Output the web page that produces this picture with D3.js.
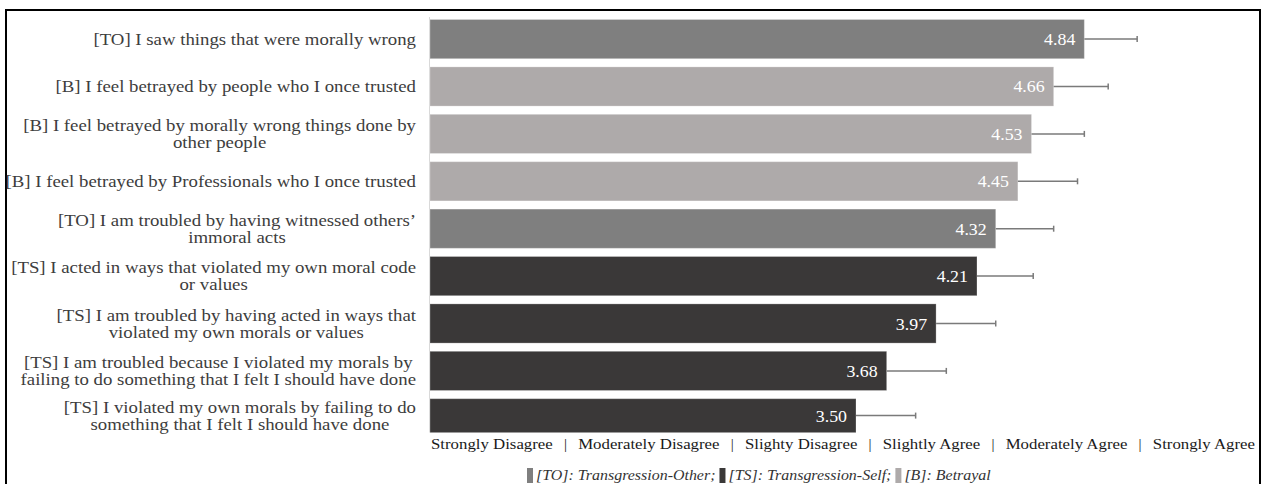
<!DOCTYPE html>
<html>
<head>
<meta charset="utf-8">
<script src="https://cdn.jsdelivr.net/npm/d3@7/dist/d3.min.js"></script>
<style>
  html, body { margin: 0; padding: 0; background: #fff; }
  svg { display: block; }
  text { font-family: "Book Antiqua", "Palatino Linotype", Palatino, "Liberation Serif", serif; }
</style>
</head>
<body>
<svg id="chart" width="1266" height="484"></svg>
<script>
// ── data ──────────────────────────────────────────
const items = [
  ["[TO] I saw things that were morally wrong"],
  ["[B] I feel betrayed by people who I once trusted"],
  ["[B] I feel betrayed by morally wrong things done by", "other people"],
  ["[B] I feel betrayed by Professionals who I once trusted"],
  ["[TO] I am troubled by having witnessed others\u2019", "immoral acts"],
  ["[TS] I acted in ways that violated my own moral code", "or values"],
  ["[TS] I am troubled by having acted in ways that", "violated my own morals or values"],
  ["[TS] I am troubled because I violated my morals by", "failing to do something that I felt I should have done"],
  ["[TS] I violated my own morals by failing to do", "something that I felt I should have done"]
];
const means  = [4.84, 4.66, 4.53, 4.45, 4.32, 4.21, 3.97, 3.68, 3.50];
const errors = [0.31, 0.32, 0.31, 0.35, 0.34, 0.33, 0.35, 0.35, 0.35];
const groups = ["TO", "B", "B", "B", "TO", "TS", "TS", "TS", "TS"];

const scaleLabels = ["Strongly Disagree", "Moderately Disagree", "Slighty Disagree",
                     "Slightly Agree", "Moderately Agree", "Strongly Agree"];
const legendKeys  = ["TO", "TS", "B"];
const legendNames = ["[TO]: Transgression-Other;", "[TS]: Transgression-Self;", "[B]: Betrayal"];

// ── setup ─────────────────────────────────────────
const svg = d3.select("#chart");
const color = d3.scaleOrdinal().domain(["TO", "B", "TS"]).range(["#7f7f7f", "#aeaaaa", "#3a3838"]);
const STRETCH = 1.105;  // Liberation Serif is narrower than the Palatino-like original

const x = d3.scaleLinear().domain([1, 6]).range([430, 1282]);
const y = d3.scaleBand().domain(d3.range(means.length))
  .range([19.5, 437.9]).paddingInner(0.173).paddingOuter(0);
const plotBottom = 432.5;
const mid = i => (y(i) + Math.min(y(i) + y.bandwidth(), plotBottom)) / 2;

// outer frame
svg.append("rect")
  .attr("x", 6).attr("y", 10).attr("width", 1254).attr("height", 490)
  .attr("fill", "none").attr("stroke", "#000").attr("stroke-width", 2);

svg.append("clipPath").attr("id", "plot")
  .append("rect").attr("x", 0).attr("y", 0).attr("width", 1266).attr("height", plotBottom);

// faint value axis line
svg.append("line")
  .attr("x1", x(1) - 0.5).attr("x2", x(1) - 0.5)
  .attr("y1", 17).attr("y2", plotBottom)
  .attr("stroke", "#d9d9d9").attr("stroke-width", 1);

const rows = d3.range(means.length).map(i => ({
  i, lines: items[i], mean: means[i], err: errors[i], group: groups[i]
}));

// bars
svg.append("g").attr("clip-path", "url(#plot)")
  .selectAll("rect")
  .data(rows)
  .join("rect")
  .attr("x", x(1))
  .attr("y", d => y(d.i))
  .attr("width", d => x(d.mean) - x(1))
  .attr("height", y.bandwidth())
  .attr("fill", d => color(d.group))
  .attr("stroke", "rgba(255,255,255,0.25)")
  .attr("stroke-width", 1);

// error bars (positive side only)
const eb = svg.append("g").attr("stroke", "#7a7a7a").attr("stroke-width", 1.5);
eb.selectAll("line.stem")
  .data(rows)
  .join("line")
  .attr("class", "stem")
  .attr("x1", d => x(d.mean))
  .attr("x2", d => x(d.mean + d.err))
  .attr("y1", d => mid(d.i))
  .attr("y2", d => mid(d.i));
eb.selectAll("line.cap")
  .data(rows)
  .join("line")
  .attr("class", "cap")
  .attr("x1", d => x(d.mean + d.err))
  .attr("x2", d => x(d.mean + d.err))
  .attr("y1", d => mid(d.i) - 3)
  .attr("y2", d => mid(d.i) + 3);

// value labels inside bars
svg.selectAll("text.val")
  .data(rows)
  .join("text")
  .attr("class", "val")
  .attr("x", d => x(d.mean) - 9)
  .attr("y", d => mid(d.i) + 6)
  .attr("text-anchor", "end")
  .attr("fill", "#fff")
  .attr("font-size", "17px")
  .text(d => d.mean.toFixed(2))
  .each(function () {
    const w = this.getComputedTextLength();
    d3.select(this).attr("textLength", w * 1.05).attr("lengthAdjust", "spacingAndGlyphs");
  });

// category labels: each line its own text, centred on the block, block right-aligned
const labelRight = 416, lineH = 17;
rows.forEach(d => {
  const cy = mid(d.i);
  const y0 = cy - (d.lines.length - 1) * lineH / 2 + 5.5;
  const nodes = d.lines.map((s, k) => svg.append("text")
    .attr("y", y0 + k * lineH)
    .attr("fill", "#3d3d3d")
    .attr("font-size", "17px")
    .attr("text-anchor", "middle")
    .text(s));
  const widths = nodes.map(n => n.node().getComputedTextLength() * STRETCH);
  const cx = labelRight - d3.max(widths) / 2;
  nodes.forEach((n, k) => n.attr("x", cx)
    .attr("textLength", widths[k]).attr("lengthAdjust", "spacingAndGlyphs"));
});

// response-scale labels under the bars
const scaleG = svg.append("g").attr("fill", "#1a1a1a").attr("font-size", "15px");
const scaleLeft = x(1) + 1, scaleRight = 1255;
const parts = [];
scaleLabels.forEach((s, i) => {
  if (i > 0) parts.push({ s: "|", sep: true });
  parts.push({ s, sep: false });
});
parts.forEach(p => {
  p.node = scaleG.append("text").attr("y", 449).text(p.s);
  p.w = p.node.node().getComputedTextLength() * (p.sep ? 1 : 1.12);
});
const used = d3.sum(parts, p => p.w);
const gap = (scaleRight - scaleLeft - used) / (parts.length - 1);
let cursor = scaleLeft;
parts.forEach(p => {
  p.node.attr("x", cursor);
  if (!p.sep) p.node.attr("textLength", p.w).attr("lengthAdjust", "spacingAndGlyphs");
  cursor += p.w + gap;
});

// legend
const lg = svg.append("g");
let lx = 527;
legendKeys.forEach((k, i) => {
  lg.append("rect")
    .attr("x", lx).attr("y", 468)
    .attr("width", 6).attr("height", 15)
    .attr("fill", color(k));
  const t = lg.append("text")
    .attr("x", lx + 9).attr("y", 480)
    .attr("fill", "#333")
    .attr("font-size", "14.5px")
    .attr("font-style", "italic")
    .text(legendNames[i]);
  const w = t.node().getComputedTextLength() * 1.1;
  t.attr("textLength", w).attr("lengthAdjust", "spacingAndGlyphs");
  lx += 9 + w + 4;
});
</script>
</body>
</html>
